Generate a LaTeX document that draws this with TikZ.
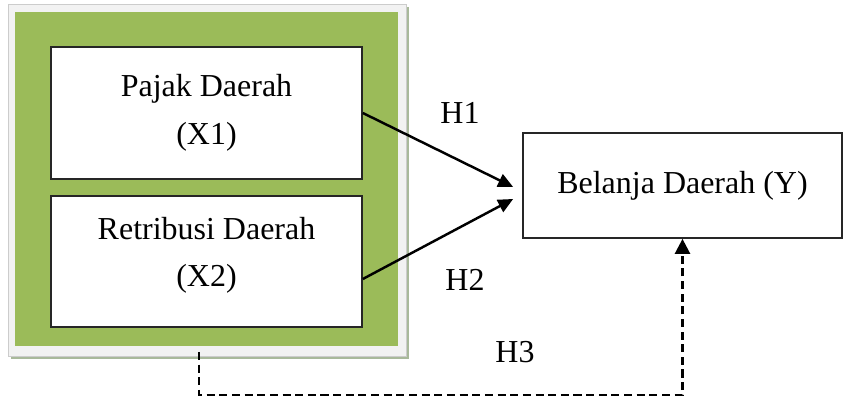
\documentclass[tikz,border=0pt]{standalone}
\usepackage{fontspec}
\setmainfont{Liberation Serif}
\usetikzlibrary{arrows.meta}
\usetikzlibrary{positioning}
\definecolor{olivegreen}{HTML}{9BBB59}
\definecolor{framegray}{HTML}{F2F2F2}
\definecolor{shadowgray}{HTML}{A9B99B}

\begin{document}
\begin{tikzpicture}[x=0.02cm,y=-0.02cm,
  varbox/.style={draw=black!85, line width=1pt, fill=white, minimum width=6.22cm, minimum height=2.64cm, align=center, inner sep=0pt, font=\fontsize{18.2}{27}\selectfont},
  hyp/.style={font=\fontsize{18.2}{21}\selectfont, inner sep=0pt},
  harrow/.style={line width=1.4pt, -{Triangle[length=0.3cm, width=0.27cm]}},
  dasharrow/.style={line width=1.4pt, dash pattern=on 4.6pt off 2.6pt, -{Triangle[length=0.3cm, width=0.3cm]}}]
\useasboundingbox (0,0) rectangle (843,398);
% green panel with its frame
\fill[shadowgray] (11,7) rectangle (409,359);
\draw[draw=black!20, fill=framegray] (8,4) rectangle (406,356);
\fill[olivegreen] (15,12) rectangle (398,346);

\node[varbox] (pajak) at (206.5,113) {Pajak Daerah\\(X1)};
\node[varbox, minimum height=2.62cm, text depth=11pt] (retribusi) at (206.5,261.5) {Retribusi Daerah\\(X2)};
\node[varbox, minimum width=6.38cm, minimum height=2.1cm] (belanja) at (682.5,185.5) {Belanja Daerah (Y)};

\coordinate (s2) at ([yshift=-0.35cm]retribusi.east);
\coordinate (t1) at ([xshift=-0.18cm, yshift=-0.03cm]belanja.west);
\coordinate (t2) at ([xshift=-0.18cm, yshift=-0.27cm]belanja.west);
\coordinate (d1) at (199,352);
\coordinate (d2) at (199,395);

\draw[harrow] (pajak.east) -- (t1);
\draw[harrow] (s2) -- (t2);
\draw[dasharrow] (d1) -- (d2) -| (belanja.south);

\node[hyp] (h1) at (460,113) {H1};
\node[hyp] (h2) at (465,280) {H2};
\node[hyp] (h3) at (515,352) {H3};
\end{tikzpicture}
\end{document}
